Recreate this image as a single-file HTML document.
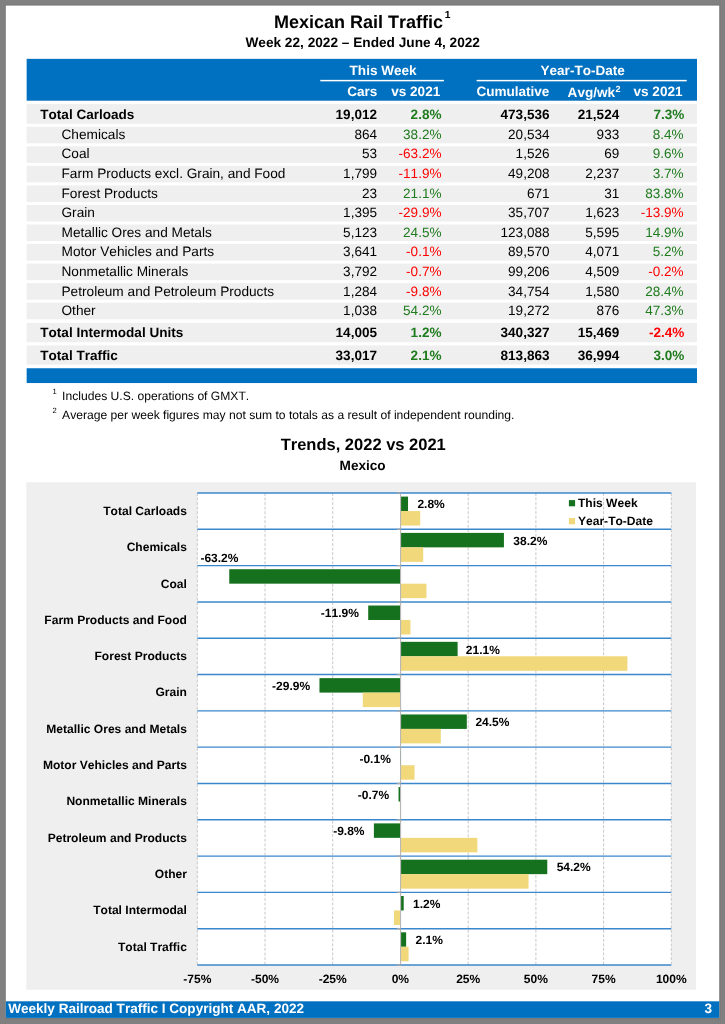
<!DOCTYPE html>
<html><head><meta charset="utf-8"><title>Mexican Rail Traffic</title>
<style>
html,body{margin:0;padding:0}
body{width:725px;height:1024px;background:#808080;position:relative;overflow:hidden;font-family:"Liberation Sans",Arial,Helvetica,sans-serif;color:#000;text-rendering:geometricPrecision;font-kerning:none}
.a{position:absolute;white-space:nowrap;line-height:1}
.t{font-size:13.55px}
.b{font-weight:bold}
.g{color:#1e7b1e}
.n{color:#ff0000}
.w{color:#fff}
.cl{font-size:12.05px;font-weight:bold;text-align:right}
.dl{font-size:12.0px;font-weight:bold}
.ax{font-size:12.05px;font-weight:bold;text-align:center;width:60px}
</style></head><body>
<svg class="a" style="left:0;top:0" width="725" height="1024" viewBox="0 0 725 1024">
<rect x="4.6" y="4.4" width="716" height="1015" fill="#7a7a7a"/>
<rect x="5.8" y="5.6" width="713.4" height="1012.3" fill="#fff"/>
<rect x="26.65" y="58.85" width="670.35" height="41.85" fill="#0070c0"/>
<rect x="320.3" y="79.85" width="123.6" height="1.5" fill="#fff"/>
<rect x="476.6" y="79.85" width="210.1" height="1.5" fill="#fff"/>
<rect x="26.65" y="368.25" width="670.35" height="14.8" fill="#0070c0"/>
<rect x="26.3" y="482.2" width="669.7" height="507.6" fill="#efefef"/>
<rect x="5.8" y="1001.3" width="713.4" height="16.6" fill="#0070c0"/>
<rect x="26.65" y="104.10" width="670.35" height="19.70" fill="#efefef"/>
<rect x="26.65" y="126.75" width="670.35" height="16.55" fill="#efefef"/>
<rect x="26.65" y="146.30" width="670.35" height="16.55" fill="#efefef"/>
<rect x="26.65" y="165.85" width="670.35" height="16.55" fill="#efefef"/>
<rect x="26.65" y="185.40" width="670.35" height="16.55" fill="#efefef"/>
<rect x="26.65" y="204.95" width="670.35" height="16.55" fill="#efefef"/>
<rect x="26.65" y="224.50" width="670.35" height="16.55" fill="#efefef"/>
<rect x="26.65" y="244.05" width="670.35" height="16.55" fill="#efefef"/>
<rect x="26.65" y="263.60" width="670.35" height="16.55" fill="#efefef"/>
<rect x="26.65" y="283.15" width="670.35" height="16.55" fill="#efefef"/>
<rect x="26.65" y="302.70" width="670.35" height="16.55" fill="#efefef"/>
<rect x="26.65" y="322.90" width="670.35" height="19.30" fill="#efefef"/>
<rect x="26.65" y="345.40" width="670.35" height="19.20" fill="#efefef"/>
</svg>

<div class="a b" style="left:274.0px;top:13.4px;font-size:18px">Mexican Rail Traffic<span style="font-size:10.3px;position:relative;top:-10.2px;left:1.7px">1</span></div>
<div class="a b" style="left:245.4px;top:36.1px;font-size:13.66px">Week 22, 2022 – Ended June 4, 2022</div>
<div class="a t b w" style="left:349.6px;top:63.5px;">This Week</div>
<div class="a t b w" style="left:540.5px;top:63.5px;">Year-To-Date</div>
<div class="a t b w" style="right:347.6px;top:85.4px;">Cars</div>
<div class="a t b w" style="right:284.8px;top:85.4px;">vs 2021</div>
<div class="a t b w" style="right:175.6px;top:85.4px;">Cumulative</div>
<div class="a t b w" style="left:567.6px;top:86.3px;">Avg/wk<span style="font-size:9px;position:relative;top:-5.5px;left:0.5px">2</span></div>
<div class="a t b w" style="right:42.5px;top:85.4px;">vs 2021</div>
<div class="a t b" style="left:40.3px;top:108.0px;">Total Carloads</div>
<div class="a t b" style="right:348.0px;top:108.0px;">19,012</div>
<div class="a t b g" style="right:283.5px;top:108.0px;">2.8%</div>
<div class="a t b" style="right:175.5px;top:108.0px;">473,536</div>
<div class="a t b" style="right:105.8px;top:108.0px;">21,524</div>
<div class="a t b g" style="right:40.6px;top:108.0px;">7.3%</div>
<div class="a t" style="left:61.5px;top:127.7px;font-size:13.67px">Chemicals</div>
<div class="a t" style="right:348.0px;top:127.7px;">864</div>
<div class="a t g" style="right:283.5px;top:127.7px;">38.2%</div>
<div class="a t" style="right:175.5px;top:127.7px;">20,534</div>
<div class="a t" style="right:105.8px;top:127.7px;">933</div>
<div class="a t g" style="right:41.4px;top:127.7px;">8.4%</div>
<div class="a t" style="left:61.5px;top:147.3px;font-size:13.67px">Coal</div>
<div class="a t" style="right:348.0px;top:147.3px;">53</div>
<div class="a t n" style="right:283.5px;top:147.3px;">-63.2%</div>
<div class="a t" style="right:175.5px;top:147.3px;">1,526</div>
<div class="a t" style="right:105.8px;top:147.3px;">69</div>
<div class="a t g" style="right:41.4px;top:147.3px;">9.6%</div>
<div class="a t" style="left:61.5px;top:166.9px;font-size:13.67px">Farm Products excl. Grain, and Food</div>
<div class="a t" style="right:348.0px;top:166.9px;">1,799</div>
<div class="a t n" style="right:283.5px;top:166.9px;">-11.9%</div>
<div class="a t" style="right:175.5px;top:166.9px;">49,208</div>
<div class="a t" style="right:105.8px;top:166.9px;">2,237</div>
<div class="a t g" style="right:41.4px;top:166.9px;">3.7%</div>
<div class="a t" style="left:61.5px;top:186.5px;font-size:13.67px">Forest Products</div>
<div class="a t" style="right:348.0px;top:186.5px;">23</div>
<div class="a t g" style="right:283.5px;top:186.5px;">21.1%</div>
<div class="a t" style="right:175.5px;top:186.5px;">671</div>
<div class="a t" style="right:105.8px;top:186.5px;">31</div>
<div class="a t g" style="right:41.4px;top:186.5px;">83.8%</div>
<div class="a t" style="left:61.5px;top:206.1px;font-size:13.67px">Grain</div>
<div class="a t" style="right:348.0px;top:206.1px;">1,395</div>
<div class="a t n" style="right:283.5px;top:206.1px;">-29.9%</div>
<div class="a t" style="right:175.5px;top:206.1px;">35,707</div>
<div class="a t" style="right:105.8px;top:206.1px;">1,623</div>
<div class="a t n" style="right:41.4px;top:206.1px;">-13.9%</div>
<div class="a t" style="left:61.5px;top:225.7px;font-size:13.67px">Metallic Ores and Metals</div>
<div class="a t" style="right:348.0px;top:225.7px;">5,123</div>
<div class="a t g" style="right:283.5px;top:225.7px;">24.5%</div>
<div class="a t" style="right:175.5px;top:225.7px;">123,088</div>
<div class="a t" style="right:105.8px;top:225.7px;">5,595</div>
<div class="a t g" style="right:41.4px;top:225.7px;">14.9%</div>
<div class="a t" style="left:61.5px;top:245.3px;font-size:13.67px">Motor Vehicles and Parts</div>
<div class="a t" style="right:348.0px;top:245.3px;">3,641</div>
<div class="a t n" style="right:283.5px;top:245.3px;">-0.1%</div>
<div class="a t" style="right:175.5px;top:245.3px;">89,570</div>
<div class="a t" style="right:105.8px;top:245.3px;">4,071</div>
<div class="a t g" style="right:41.4px;top:245.3px;">5.2%</div>
<div class="a t" style="left:61.5px;top:264.9px;font-size:13.67px">Nonmetallic Minerals</div>
<div class="a t" style="right:348.0px;top:264.9px;">3,792</div>
<div class="a t n" style="right:283.5px;top:264.9px;">-0.7%</div>
<div class="a t" style="right:175.5px;top:264.9px;">99,206</div>
<div class="a t" style="right:105.8px;top:264.9px;">4,509</div>
<div class="a t n" style="right:41.4px;top:264.9px;">-0.2%</div>
<div class="a t" style="left:61.5px;top:284.5px;font-size:13.67px">Petroleum and Petroleum Products</div>
<div class="a t" style="right:348.0px;top:284.5px;">1,284</div>
<div class="a t n" style="right:283.5px;top:284.5px;">-9.8%</div>
<div class="a t" style="right:175.5px;top:284.5px;">34,754</div>
<div class="a t" style="right:105.8px;top:284.5px;">1,580</div>
<div class="a t g" style="right:41.4px;top:284.5px;">28.4%</div>
<div class="a t" style="left:61.5px;top:304.1px;font-size:13.67px">Other</div>
<div class="a t" style="right:348.0px;top:304.1px;">1,038</div>
<div class="a t g" style="right:283.5px;top:304.1px;">54.2%</div>
<div class="a t" style="right:175.5px;top:304.1px;">19,272</div>
<div class="a t" style="right:105.8px;top:304.1px;">876</div>
<div class="a t g" style="right:41.4px;top:304.1px;">47.3%</div>
<div class="a t b" style="left:40.3px;top:326.4px;">Total Intermodal Units</div>
<div class="a t b" style="right:348.0px;top:326.4px;">14,005</div>
<div class="a t b g" style="right:283.5px;top:326.4px;">1.2%</div>
<div class="a t b" style="right:175.5px;top:326.4px;">340,327</div>
<div class="a t b" style="right:105.8px;top:326.4px;">15,469</div>
<div class="a t b n" style="right:40.6px;top:326.4px;">-2.4%</div>
<div class="a t b" style="left:40.3px;top:349.1px;">Total Traffic</div>
<div class="a t b" style="right:348.0px;top:349.1px;">33,017</div>
<div class="a t b g" style="right:283.5px;top:349.1px;">2.1%</div>
<div class="a t b" style="right:175.5px;top:349.1px;">813,863</div>
<div class="a t b" style="right:105.8px;top:349.1px;">36,994</div>
<div class="a t b g" style="right:40.6px;top:349.1px;">3.0%</div>
<div class="a " style="left:52.5px;top:388.0px;font-size:7.6px">1</div>
<div class="a " style="left:62.1px;top:390.3px;font-size:12.11px">Includes U.S. operations of GMXT.</div>
<div class="a " style="left:52.4px;top:406.5px;font-size:7.6px">2</div>
<div class="a " style="left:62.1px;top:408.8px;font-size:12.11px">Average per week figures may not sum to totals as a result of independent rounding.</div>
<div class="a b" style="left:280.7px;top:436.7px;font-size:16.5px">Trends, 2022 vs 2021</div>
<div class="a b" style="left:339.6px;top:459.2px;font-size:13.6px">Mexico</div>
<svg class="a" style="left:0;top:0" width="725" height="1024" viewBox="0 0 725 1024">
<rect x="197.3" y="493.0" width="474.0" height="472.0" fill="#fff"/>
<line x1="197.3" y1="493.0" x2="197.3" y2="965.0" stroke="#c2c2c2" stroke-width="0.9" stroke-dasharray="2.9 1.65"/>
<line x1="265.0" y1="493.0" x2="265.0" y2="965.0" stroke="#c2c2c2" stroke-width="0.9" stroke-dasharray="2.9 1.65"/>
<line x1="332.7" y1="493.0" x2="332.7" y2="965.0" stroke="#c2c2c2" stroke-width="0.9" stroke-dasharray="2.9 1.65"/>
<line x1="468.2" y1="493.0" x2="468.2" y2="965.0" stroke="#c2c2c2" stroke-width="0.9" stroke-dasharray="2.9 1.65"/>
<line x1="535.9" y1="493.0" x2="535.9" y2="965.0" stroke="#c2c2c2" stroke-width="0.9" stroke-dasharray="2.9 1.65"/>
<line x1="603.6" y1="493.0" x2="603.6" y2="965.0" stroke="#c2c2c2" stroke-width="0.9" stroke-dasharray="2.9 1.65"/>
<line x1="671.3" y1="493.0" x2="671.3" y2="965.0" stroke="#c2c2c2" stroke-width="0.9" stroke-dasharray="2.9 1.65"/>
<rect x="401.05" y="496.60" width="6.98" height="14.45" fill="#15711d"/>
<rect x="401.05" y="511.05" width="19.17" height="14.50" fill="#f1d87a"/>
<rect x="401.05" y="532.91" width="102.87" height="14.45" fill="#15711d"/>
<rect x="401.05" y="547.36" width="22.15" height="14.50" fill="#f1d87a"/>
<rect x="229.26" y="569.22" width="170.78" height="14.45" fill="#15711d"/>
<rect x="401.05" y="583.67" width="25.40" height="14.50" fill="#f1d87a"/>
<rect x="368.21" y="605.53" width="31.83" height="14.45" fill="#15711d"/>
<rect x="401.05" y="619.98" width="9.42" height="14.50" fill="#f1d87a"/>
<rect x="401.05" y="641.84" width="56.55" height="14.45" fill="#15711d"/>
<rect x="401.05" y="656.29" width="226.38" height="14.50" fill="#f1d87a"/>
<rect x="319.46" y="678.15" width="80.59" height="14.45" fill="#15711d"/>
<rect x="362.80" y="692.60" width="37.25" height="14.50" fill="#f1d87a"/>
<rect x="401.05" y="714.46" width="65.76" height="14.45" fill="#15711d"/>
<rect x="401.05" y="728.91" width="39.76" height="14.50" fill="#f1d87a"/>
<rect x="400.17" y="750.77" width="0.30" height="14.45" fill="#15711d"/>
<rect x="401.05" y="765.22" width="13.48" height="14.50" fill="#f1d87a"/>
<rect x="398.55" y="787.08" width="1.50" height="14.45" fill="#15711d"/>
<rect x="399.90" y="801.53" width="0.30" height="14.50" fill="#f1d87a"/>
<rect x="373.90" y="823.39" width="26.14" height="14.45" fill="#15711d"/>
<rect x="401.05" y="837.84" width="76.32" height="14.50" fill="#f1d87a"/>
<rect x="401.05" y="859.70" width="146.21" height="14.45" fill="#15711d"/>
<rect x="401.05" y="874.15" width="127.52" height="14.50" fill="#f1d87a"/>
<rect x="401.05" y="896.01" width="2.65" height="14.45" fill="#15711d"/>
<rect x="393.94" y="910.46" width="6.10" height="14.50" fill="#f1d87a"/>
<rect x="401.05" y="932.32" width="5.09" height="14.45" fill="#15711d"/>
<rect x="401.05" y="946.77" width="7.53" height="14.50" fill="#f1d87a"/>
<line x1="197.3" y1="493.00" x2="671.3" y2="493.00" stroke="#3b87cb" stroke-width="1.4"/>
<line x1="396.9" y1="493.00" x2="400.4" y2="493.00" stroke="#a8a8a8" stroke-width="1.3"/>
<line x1="197.3" y1="529.31" x2="671.3" y2="529.31" stroke="#3b87cb" stroke-width="1.4"/>
<line x1="396.9" y1="529.31" x2="400.4" y2="529.31" stroke="#a8a8a8" stroke-width="1.3"/>
<line x1="197.3" y1="565.62" x2="671.3" y2="565.62" stroke="#3b87cb" stroke-width="1.4"/>
<line x1="396.9" y1="565.62" x2="400.4" y2="565.62" stroke="#a8a8a8" stroke-width="1.3"/>
<line x1="197.3" y1="601.93" x2="671.3" y2="601.93" stroke="#3b87cb" stroke-width="1.4"/>
<line x1="396.9" y1="601.93" x2="400.4" y2="601.93" stroke="#a8a8a8" stroke-width="1.3"/>
<line x1="197.3" y1="638.24" x2="671.3" y2="638.24" stroke="#3b87cb" stroke-width="1.4"/>
<line x1="396.9" y1="638.24" x2="400.4" y2="638.24" stroke="#a8a8a8" stroke-width="1.3"/>
<line x1="197.3" y1="674.55" x2="671.3" y2="674.55" stroke="#3b87cb" stroke-width="1.4"/>
<line x1="396.9" y1="674.55" x2="400.4" y2="674.55" stroke="#a8a8a8" stroke-width="1.3"/>
<line x1="197.3" y1="710.86" x2="671.3" y2="710.86" stroke="#3b87cb" stroke-width="1.4"/>
<line x1="396.9" y1="710.86" x2="400.4" y2="710.86" stroke="#a8a8a8" stroke-width="1.3"/>
<line x1="197.3" y1="747.17" x2="671.3" y2="747.17" stroke="#3b87cb" stroke-width="1.4"/>
<line x1="396.9" y1="747.17" x2="400.4" y2="747.17" stroke="#a8a8a8" stroke-width="1.3"/>
<line x1="197.3" y1="783.48" x2="671.3" y2="783.48" stroke="#3b87cb" stroke-width="1.4"/>
<line x1="396.9" y1="783.48" x2="400.4" y2="783.48" stroke="#a8a8a8" stroke-width="1.3"/>
<line x1="197.3" y1="819.79" x2="671.3" y2="819.79" stroke="#3b87cb" stroke-width="1.4"/>
<line x1="396.9" y1="819.79" x2="400.4" y2="819.79" stroke="#a8a8a8" stroke-width="1.3"/>
<line x1="197.3" y1="856.10" x2="671.3" y2="856.10" stroke="#3b87cb" stroke-width="1.4"/>
<line x1="396.9" y1="856.10" x2="400.4" y2="856.10" stroke="#a8a8a8" stroke-width="1.3"/>
<line x1="197.3" y1="892.41" x2="671.3" y2="892.41" stroke="#3b87cb" stroke-width="1.4"/>
<line x1="396.9" y1="892.41" x2="400.4" y2="892.41" stroke="#a8a8a8" stroke-width="1.3"/>
<line x1="197.3" y1="928.72" x2="671.3" y2="928.72" stroke="#3b87cb" stroke-width="1.4"/>
<line x1="396.9" y1="928.72" x2="400.4" y2="928.72" stroke="#a8a8a8" stroke-width="1.3"/>
<line x1="197.3" y1="965.03" x2="671.3" y2="965.03" stroke="#3b87cb" stroke-width="1.4"/>
<line x1="396.9" y1="965.03" x2="400.4" y2="965.03" stroke="#a8a8a8" stroke-width="1.3"/>
<line x1="400.6" y1="493.0" x2="400.6" y2="965.6" stroke="#a2a2a2" stroke-width="0.85"/>
<rect x="568.9" y="500.1" width="6.2" height="6.2" fill="#15711d"/>
<rect x="568.9" y="518.1" width="6.2" height="6.2" fill="#f1d87a"/>
</svg>
<div class="a cl" style="right:538.1px;top:504.9px;">Total Carloads</div>
<div class="a dl" style="left:417.4px;top:498.3px;">2.8%</div>
<div class="a cl" style="right:538.1px;top:541.2px;">Chemicals</div>
<div class="a dl" style="left:513.3px;top:534.6px;">38.2%</div>
<div class="a cl" style="right:538.1px;top:577.5px;">Coal</div>
<div class="a dl" style="left:200.4px;top:551.9px;">-63.2%</div>
<div class="a cl" style="right:538.1px;top:613.8px;">Farm Products and Food</div>
<div class="a dl" style="right:366.2px;top:607.3px;">-11.9%</div>
<div class="a cl" style="right:538.1px;top:650.1px;">Forest Products</div>
<div class="a dl" style="left:465.8px;top:643.6px;">21.1%</div>
<div class="a cl" style="right:538.1px;top:686.4px;">Grain</div>
<div class="a dl" style="right:414.9px;top:679.9px;">-29.9%</div>
<div class="a cl" style="right:538.1px;top:722.8px;">Metallic Ores and Metals</div>
<div class="a dl" style="left:475.4px;top:716.2px;">24.5%</div>
<div class="a cl" style="right:538.1px;top:759.1px;">Motor Vehicles and Parts</div>
<div class="a dl" style="right:334.2px;top:752.5px;">-0.1%</div>
<div class="a cl" style="right:538.1px;top:795.4px;">Nonmetallic Minerals</div>
<div class="a dl" style="right:335.9px;top:788.8px;">-0.7%</div>
<div class="a cl" style="right:538.1px;top:831.7px;">Petroleum and Products</div>
<div class="a dl" style="right:360.5px;top:825.1px;">-9.8%</div>
<div class="a cl" style="right:538.1px;top:868.0px;">Other</div>
<div class="a dl" style="left:556.7px;top:861.4px;">54.2%</div>
<div class="a cl" style="right:538.1px;top:904.3px;">Total Intermodal</div>
<div class="a dl" style="left:413.1px;top:897.7px;">1.2%</div>
<div class="a cl" style="right:538.1px;top:940.6px;">Total Traffic</div>
<div class="a dl" style="left:415.5px;top:934.1px;">2.1%</div>
<div class="a dl" style="left:578.0px;top:497.3px;font-size:12.05px">This Week</div>
<div class="a dl" style="left:578.0px;top:515.3px;font-size:12.05px">Year-To-Date</div>
<div class="a ax" style="left:167.3px;top:973.2px">-75%</div>
<div class="a ax" style="left:235.0px;top:973.2px">-50%</div>
<div class="a ax" style="left:302.7px;top:973.2px">-25%</div>
<div class="a ax" style="left:370.4px;top:973.2px">0%</div>
<div class="a ax" style="left:438.2px;top:973.2px">25%</div>
<div class="a ax" style="left:505.9px;top:973.2px">50%</div>
<div class="a ax" style="left:573.6px;top:973.2px">75%</div>
<div class="a ax" style="left:641.3px;top:973.2px">100%</div>
<div class="a b w" style="left:8.2px;top:1002.2px;font-size:13.55px">Weekly Railroad Traffic I Copyright AAR, 2022</div>
<div class="a b w" style="right:12.9px;top:1002.2px;font-size:13.55px">3</div>
</body></html>
